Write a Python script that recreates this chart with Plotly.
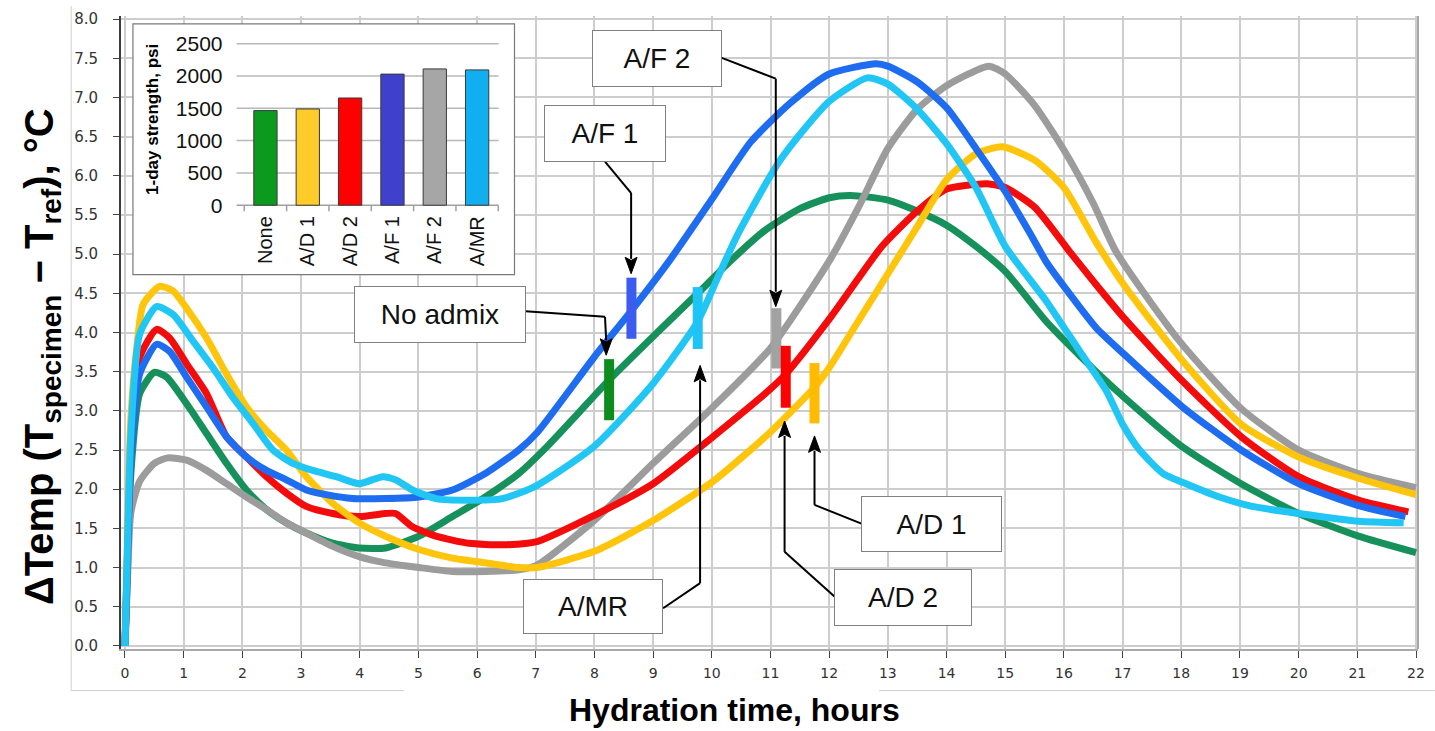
import plotly.graph_objects as go

# ---------------- data ----------------
hours_none = [0, 0.04, 0.1, 0.25, 0.5, 0.71, 1.05, 1.39, 1.73, 2.07, 2.41, 2.75, 3.09, 3.54, 3.99, 4.44, 5.01, 5.58, 6.14, 6.71, 7.2, 7.7, 8.23, 9.0, 9.76, 10.3, 10.9, 11.5, 12.0, 12.36, 13.0, 13.5, 14.0, 14.5, 15.0, 15.7, 16.02, 16.55, 17.03, 18.02, 19.02, 20.0, 21.02, 22.0]
temp_none = [0, 0.9, 2.2, 3.22, 3.49, 3.43, 3.09, 2.71, 2.33, 1.99, 1.74, 1.57, 1.44, 1.31, 1.25, 1.25, 1.40, 1.65, 1.9, 2.2, 2.55, 2.95, 3.38, 3.95, 4.5, 4.9, 5.3, 5.58, 5.72, 5.75, 5.69, 5.55, 5.37, 5.1, 4.78, 4.14, 3.89, 3.5, 3.17, 2.54, 2.07, 1.69, 1.40, 1.19]

hours_ad1 = [0, 0.04, 0.1, 0.2, 0.31, 0.59, 0.82, 1.05, 1.39, 1.73, 2.07, 2.41, 2.75, 3.09, 3.54, 3.99, 4.44, 5.01, 5.58, 6.14, 6.71, 7.02, 8.01, 9.0, 10.02, 11.0, 11.75, 12.0, 12.5, 13.0, 13.5, 14.0, 14.5, 14.95, 15.5, 16.0, 16.55, 17.03, 18.02, 19.02, 20.0, 21.02, 22.0]
temp_ad1 = [0, 1.3, 2.9, 3.8, 4.36, 4.59, 4.53, 4.31, 3.93, 3.47, 3.05, 2.75, 2.50, 2.16, 1.82, 1.57, 1.40, 1.23, 1.12, 1.06, 1.0, 1.0, 1.21, 1.6, 2.1, 2.73, 3.3, 3.55, 4.15, 4.75, 5.35, 5.95, 6.28, 6.37, 6.2, 5.85, 5.15, 4.6, 3.64, 2.83, 2.41, 2.14, 1.93]

hours_ad2 = [0, 0.04, 0.1, 0.25, 0.54, 0.76, 1.05, 1.39, 1.73, 2.07, 2.41, 2.75, 3.09, 3.54, 3.99, 4.44, 4.61, 4.9, 5.3, 5.86, 6.43, 7.02, 8.01, 9.0, 10.02, 11.0, 11.26, 12.03, 12.9, 13.5, 14.0, 14.69, 15.0, 15.5, 16.1, 16.55, 17.03, 18.02, 19.02, 20.0, 21.02, 21.87]
temp_ad2 = [0, 1.1, 2.5, 3.68, 4.04, 3.93, 3.6, 3.22, 2.67, 2.41, 2.16, 1.95, 1.78, 1.69, 1.65, 1.69, 1.69, 1.52, 1.40, 1.31, 1.29, 1.33, 1.67, 2.07, 2.67, 3.28, 3.47, 4.2, 5.1, 5.55, 5.83, 5.9, 5.85, 5.6, 5.03, 4.61, 4.18, 3.38, 2.67, 2.16, 1.86, 1.71]

hours_af1 = [0, 0.04, 0.1, 0.25, 0.54, 0.76, 1.05, 1.39, 1.73, 2.07, 2.41, 2.75, 3.09, 3.43, 3.88, 4.44, 5.01, 5.58, 6.14, 6.71, 7.02, 8.01, 8.62, 9.3, 10.0, 10.66, 11.34, 12.0, 12.8, 13.0, 13.5, 14.0, 14.5, 15.0, 15.42, 15.7, 16.02, 16.55, 17.03, 18.02, 19.02, 20.0, 21.02, 21.82]
temp_af1 = [0, 1.0, 2.4, 3.47, 3.85, 3.76, 3.43, 3.05, 2.67, 2.41, 2.24, 2.12, 1.99, 1.93, 1.88, 1.88, 1.9, 1.99, 2.2, 2.5, 2.72, 3.7, 4.27, 4.94, 5.7, 6.43, 6.93, 7.3, 7.43, 7.4, 7.2, 6.87, 6.35, 5.8, 5.27, 4.9, 4.57, 4.06, 3.72, 3.05, 2.5, 2.07, 1.79, 1.65]

hours_af2 = [0, 0.04, 0.1, 0.25, 0.5, 0.73, 1.05, 1.39, 1.73, 2.07, 2.41, 2.75, 3.09, 3.54, 3.99, 4.44, 5.01, 5.58, 6.14, 6.71, 7.02, 8.01, 9.0, 10.02, 11.0, 12.03, 12.5, 13.0, 13.5, 14.0, 14.72, 15.0, 15.5, 16.0, 16.5, 16.89, 17.97, 19.02, 20.0, 21.02, 22.0]
temp_af2 = [0, 0.8, 1.7, 2.1, 2.33, 2.40, 2.37, 2.24, 2.07, 1.9, 1.74, 1.57, 1.44, 1.27, 1.14, 1.06, 1.0, 0.95, 0.95, 0.97, 1.03, 1.61, 2.33, 3.05, 3.8, 4.95, 5.6, 6.35, 6.85, 7.15, 7.4, 7.3, 6.9, 6.33, 5.65, 5.03, 3.89, 3.03, 2.5, 2.2, 2.02]

hours_amr = [0, 0.04, 0.1, 0.25, 0.54, 0.82, 1.16, 1.5, 1.84, 2.18, 2.52, 2.86, 3.2, 3.6, 3.99, 4.39, 4.61, 4.9, 5.3, 5.86, 6.43, 7.0, 8.0, 9.0, 9.76, 10.1, 10.44, 11.12, 11.58, 12.0, 12.65, 13.0, 13.5, 14.0, 14.5, 15.0, 15.7, 16.27, 16.72, 17.0, 17.29, 17.69, 18.08, 18.65, 19.21, 20.0, 21.02, 21.79]
temp_amr = [0, 1.2, 2.7, 3.98, 4.33, 4.23, 3.89, 3.55, 3.17, 2.84, 2.5, 2.33, 2.24, 2.16, 2.07, 2.16, 2.12, 1.99, 1.88, 1.86, 1.88, 2.04, 2.55, 3.35, 4.14, 4.7, 5.25, 6.15, 6.6, 6.95, 7.25, 7.17, 6.85, 6.41, 5.85, 5.1, 4.4, 3.76, 3.26, 2.83, 2.5, 2.2, 2.07, 1.9, 1.78, 1.69, 1.59, 1.57]

# final-set markers
set_names = ["No admix", "A/F 1", "A/MR", "A/F 2", "A/D 2", "A/D 1"]
set_hours = [8.25, 8.63, 9.76, 11.10, 11.26, 11.75]
set_low = [2.88, 3.92, 3.79, 3.54, 3.04, 2.84]
set_high = [3.66, 4.70, 4.58, 4.31, 3.83, 3.61]

# inset: 1-day strength
strength_categories = ["None", "A/D 1", "A/D 2", "A/F 1", "A/F 2", "A/MR"]
strength_psi = [1465, 1490, 1660, 2030, 2110, 2095]
strength_ticks = [0, 500, 1000, 1500, 2000, 2500]

x_ticks = list(range(0, 23))
y_ticks = [i * 0.5 for i in range(17)]

# ---------------- styles ----------------
curve_colors = {"None": "#17915c", "A/D 1": "#ffc50d", "A/D 2": "#f20c0c",
                "A/F 1": "#1e6cef", "A/F 2": "#9c9c9c", "A/MR": "#22c6f5"}
set_colors = {"No admix": "#0e8c1e", "A/F 1": "#3c5cef", "A/MR": "#1dc4f5",
              "A/F 2": "#a2a2a2", "A/D 2": "#ff0000", "A/D 1": "#ffbb00"}
bar_colors = ["#0c9a1e", "#ffcc2a", "#ff0000", "#3f40cc", "#a6a6a6", "#11aef0"]

W, H = 1435, 731
PL, PR, PT, PB = 121, 1423, 10, 649   # main plot area in pixels
XPX, YPX = 58.9, 79.0                 # pixels per hour / per degree


def px(xp):
    return (xp - PL) / (PR - PL)


def py(yp):
    return (PB - yp) / (PB - PT)


fig = go.Figure()

series = [("None", hours_none, temp_none), ("A/F 2", hours_af2, temp_af2),
          ("A/D 2", hours_ad2, temp_ad2), ("A/D 1", hours_ad1, temp_ad1),
          ("A/F 1", hours_af1, temp_af1), ("A/MR", hours_amr, temp_amr)]
for name, hx, ty in series:
    fig.add_trace(go.Scatter(x=hx, y=ty, mode="lines", name=name,
                             line=dict(color=curve_colors[name], width=7,
                                       shape="spline", smoothing=0.6),
                             showlegend=False, hoverinfo="skip"))

for n, h, lo, hi in zip(set_names, set_hours, set_low, set_high):
    fig.add_trace(go.Scatter(x=[h, h], y=[lo, hi], mode="lines",
                             line=dict(color=set_colors[n], width=10),
                             showlegend=False, hoverinfo="skip"))

# inset bars
fig.add_trace(go.Bar(x=strength_categories, y=strength_psi, xaxis="x2", yaxis="y2",
                     marker=dict(color=bar_colors, line=dict(color="#3a3a3a", width=1)),
                     width=0.55, showlegend=False, hoverinfo="skip"))

# inset geometry (pixels)
IB_L, IB_R, IB_T, IB_B = 133, 516, 18, 271
CAT0, CATW = 266, 42.5          # centre of first category, spacing
Y0PX, Y2500PX = 201, 38
ppsi = (Y0PX - Y2500PX) / 2500.0
x2_range = [-(CAT0 - IB_L) / CATW, 5 + (IB_R - (CAT0 + 5 * CATW)) / CATW]
y2_range = [-(IB_B - Y0PX) / ppsi, 2500 + (Y2500PX - IB_T) / ppsi]
grid_x0 = (237 - CAT0) / CATW
grid_x1 = (500 - CAT0) / CATW

shapes = []
# white inset background (drawn inside inset subplot layer, above main plot)
shapes.append(dict(type="rect", xref="x2", yref="y2", layer="below",
                   x0=x2_range[0], x1=x2_range[1], y0=y2_range[0], y1=y2_range[1],
                   fillcolor="white", line=dict(width=0)))
for v in strength_ticks:
    shapes.append(dict(type="line", xref="x2", yref="y2", layer="below",
                       x0=grid_x0, x1=grid_x1, y0=v, y1=v,
                       line=dict(color="#b8b8b8" if v else "#a0a0a0", width=1.5)))
for k in range(len(strength_categories) + 1):
    shapes.append(dict(type="line", xref="x2", yref="y2", layer="below",
                       x0=k - 0.5, x1=k - 0.5, y0=0, y1=-6 / ppsi,
                       line=dict(color="#a0a0a0", width=1.5)))
# inset border
shapes.append(dict(type="rect", xref="paper", yref="paper", layer="above",
                   x0=px(IB_L), x1=px(IB_R), y0=py(IB_B), y1=py(IB_T),
                   line=dict(color="#7a7a7a", width=1.2)))
# right border of the main plot
shapes.append(dict(type="line", xref="paper", yref="paper", layer="above",
                   x0=1, x1=1, y0=0, y1=1, line=dict(color="#a8a8a8", width=2)))
# outer light frame
shapes.append(dict(type="line", xref="paper", yref="paper", x0=px(71), x1=px(71),
                   y0=py(691), y1=py(0), line=dict(color="#cfcfcf", width=1)))
shapes.append(dict(type="line", xref="paper", yref="paper", x0=px(71), x1=px(405),
                   y0=py(691), y1=py(691), line=dict(color="#cfcfcf", width=1)))
shapes.append(dict(type="line", xref="paper", yref="paper", x0=px(882), x1=px(1440),
                   y0=py(691), y1=py(691), line=dict(color="#cfcfcf", width=1)))

# label boxes: text, centre (h, T), size px, connector points (last = arrow head)
labels = [
    ("A/F 2", 9.066, 7.494, 130, 57, [(10.17, 7.506), (11.09, 7.24), (11.09, 4.33)]),
    ("A/F 1", 8.18, 6.54, 122, 57, [(8.18, 6.18), (8.625, 5.78), (8.625, 4.75)]),
    ("No admix", 5.365, 4.23, 172, 57, [(6.825, 4.27), (8.18, 4.20), (8.2, 3.71)]),
    ("A/MR", 7.98, 0.506, 140, 55, [(9.17, 0.48), (9.80, 0.80), (9.80, 3.58)]),
    ("A/D 2", 13.26, 0.62, 138, 57, [(12.09, 0.63), (11.24, 1.20), (11.24, 2.87)]),
    ("A/D 1", 13.75, 1.557, 141, 56, [(12.56, 1.557), (11.75, 1.80), (11.75, 2.68)]),
]
AH_W, AH_L = 6.0, 15.0   # arrowhead half-width / length in px
annotations = []
for text, bx, by, bw, bh, pts in labels:
    (tx, ty_), (hx, hy) = pts[-2], pts[-1]
    sgn = 1 if ty_ > hy else -1           # +1: arrow points down
    base_y = hy + sgn * AH_L / YPX
    segs = pts[:-1] + [(hx, base_y)]
    for (xa, ya), (xb, yb) in zip(segs[:-1], segs[1:]):
        shapes.append(dict(type="line", xref="x", yref="y", layer="above",
                           x0=xa, y0=ya, x1=xb, y1=yb,
                           line=dict(color="black", width=2)))
    dx = AH_W / XPX
    shapes.append(dict(type="path", xref="x", yref="y", layer="above",
                       path=f"M {hx - dx},{base_y + sgn * 0.02} L {hx},{hy} "
                            f"L {hx + dx},{base_y + sgn * 0.02} L {hx},{base_y - sgn * 0.02} Z",
                       fillcolor="black", line=dict(color="black", width=1)))
    annotations.append(dict(x=bx, y=by, xref="x", yref="y", text=text, showarrow=False,
                            font=dict(family="Liberation Sans, Arial", size=28, color="#111"),
                            bgcolor="white", bordercolor="#808080", borderwidth=1,
                            borderpad=0, width=bw - 2, height=bh - 2,
                            xanchor="center", yanchor="middle"))

# axis titles
annotations.append(dict(x=px(737), y=py(711), xref="paper", yref="paper",
                        text="<b>Hydration time, hours</b>", showarrow=False,
                        font=dict(family="Liberation Sans, Arial", size=32, color="black"),
                        xanchor="center", yanchor="middle"))
annotations.append(dict(x=px(41), y=py(354), xref="paper", yref="paper",
                        text="<b>ΔTemp (T<sub>specimen</sub> − T<sub>ref</sub>), °C</b>",
                        showarrow=False, textangle=-90,
                        font=dict(family="Liberation Sans, Arial", size=40, color="black"),
                        xanchor="center", yanchor="middle"))
annotations.append(dict(x=px(152), y=py(114), xref="paper", yref="paper",
                        text="<b>1-day strength, psi</b>", showarrow=False, textangle=-90,
                        font=dict(family="Liberation Sans, Arial", size=17, color="black"),
                        xanchor="center", yanchor="middle"))

x_lo = -(125 - PL) / XPX
x_hi = 22 + (PR - 1421) / XPX

fig.update_layout(
    width=W, height=H,
    margin=dict(l=PL, r=W - PR, t=PT, b=H - PB, pad=0),
    paper_bgcolor="white", plot_bgcolor="white",
    showlegend=False,
    xaxis=dict(range=[x_lo, x_hi], tickvals=x_ticks, showgrid=True,
               gridcolor="#cdcdcd", gridwidth=2, zeroline=False,
               showline=True, linecolor="#a9a9a9", linewidth=2,
               ticks="outside", ticklen=7, tickcolor="#444", tickwidth=1,
               tickfont=dict(family="DejaVu Sans", size=14, color="#333"),
               ticklabelstandoff=3),
    yaxis=dict(range=[-0.04, 8.04], tickvals=y_ticks, tickformat=".1f",
               showgrid=True, gridcolor="#cdcdcd", gridwidth=2, zeroline=False,
               showline=True, linecolor="#3c3c3c", linewidth=2,
               ticks="outside", ticklen=6, tickcolor="#444", tickwidth=1,
               tickfont=dict(family="DejaVu Sans", size=15, color="#333"),
               ticklabelstandoff=12),
    xaxis2=dict(domain=[px(IB_L), px(IB_R)], anchor="free", position=py(Y0PX),
                type="category", categoryorder="array", categoryarray=strength_categories,
                tickmode="array", tickvals=strength_categories,
                range=x2_range, showgrid=False, zeroline=False, showline=False,
                ticks="", tickangle=-90, ticklabelstandoff=6,
                tickfont=dict(family="Liberation Sans, Arial", size=20, color="#111")),
    yaxis2=dict(domain=[py(IB_B), py(IB_T)], anchor="free", position=px(237),
                range=y2_range, tickvals=strength_ticks, showgrid=False, zeroline=False,
                showline=False, ticks="", ticklabelstandoff=14,
                tickfont=dict(family="Liberation Sans, Arial", size=21, color="#111")),
    shapes=shapes,
    annotations=annotations,
)

fig.write_html("out.html", config={"displayModeBar": False},
               post_script="document.body.style.margin='0px';")
